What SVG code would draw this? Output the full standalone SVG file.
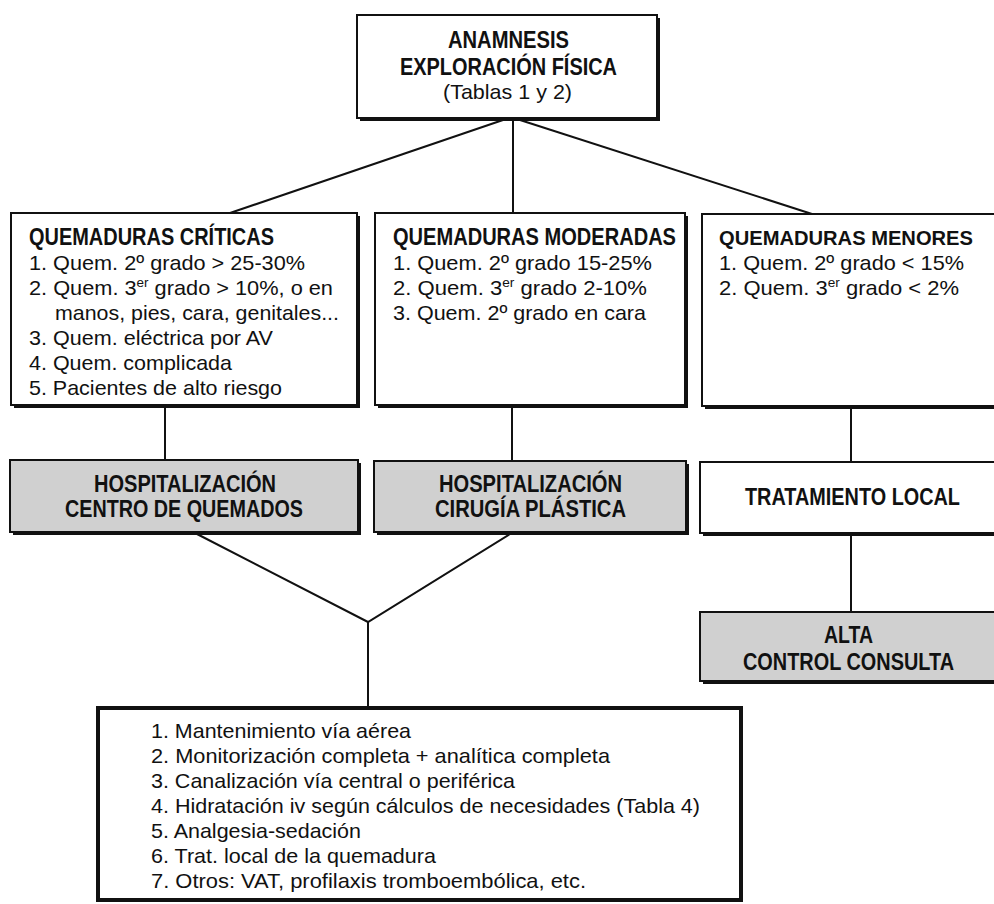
<svg xmlns="http://www.w3.org/2000/svg" width="994" height="904" viewBox="0 0 994 904">
<style>
text{font-family:"Liberation Sans",Arial,sans-serif;fill:#111}
.b{font-weight:bold;font-size:23px}
.r{font-size:21px}
.c{text-anchor:middle}
.sup{font-size:13px}
.box{fill:#fff;stroke:#111;stroke-width:2}
.gray{fill:#d0d0d0;stroke:#111;stroke-width:2}
.sh{fill:#111}
.ln{stroke:#111;stroke-width:2;fill:none}
</style>
<rect width="994" height="904" fill="#fff"/>
<g id="connectors">
<line class="ln" x1="503" y1="120" x2="230" y2="213"/>
<line class="ln" x1="513" y1="120" x2="513" y2="213"/>
<line class="ln" x1="520" y1="120" x2="812" y2="214"/>
<line class="ln" x1="165" y1="407" x2="165" y2="460"/>
<line class="ln" x1="512" y1="407" x2="512" y2="461"/>
<line class="ln" x1="851" y1="408" x2="851" y2="462"/>
<polyline class="ln" points="197,534 368,622 510,534"/>
<line class="ln" x1="368" y1="622" x2="368" y2="707"/>
<line class="ln" x1="851" y1="535" x2="851" y2="612"/>
</g>
<g id="anamnesis">
<rect class="sh" x="360" y="18" width="300" height="103"/>
<rect class="box" x="357" y="15" width="300" height="103"/>
<text class="b c" x="508.5" y="48" textLength="121" lengthAdjust="spacingAndGlyphs">ANAMNESIS</text>
<text class="b c" x="508.5" y="75" textLength="217" lengthAdjust="spacingAndGlyphs">EXPLORACIÓN FÍSICA</text>
<text class="r c" x="507.5" y="99" textLength="129" lengthAdjust="spacingAndGlyphs">(Tablas 1 y 2)</text>
</g>
<g id="criticas">
<rect class="sh" x="14" y="216" width="346" height="192"/>
<rect class="box" x="11" y="213" width="346" height="192"/>
<text class="b" x="29" y="245" textLength="245" lengthAdjust="spacingAndGlyphs">QUEMADURAS CRÍTICAS</text>
<text class="r" x="29" y="270" textLength="276" lengthAdjust="spacingAndGlyphs">1. Quem. 2º grado &gt; 25-30%</text>
<text class="r" x="29" y="295" textLength="304" lengthAdjust="spacingAndGlyphs">2. Quem. 3<tspan class="sup" dy="-8">er</tspan><tspan dy="8"> grado &gt; 10%, o en</tspan></text>
<text class="r" x="55" y="320" textLength="284" lengthAdjust="spacingAndGlyphs">manos, pies, cara, genitales...</text>
<text class="r" x="29" y="345" textLength="244" lengthAdjust="spacingAndGlyphs">3. Quem. eléctrica por AV</text>
<text class="r" x="29" y="370" textLength="203" lengthAdjust="spacingAndGlyphs">4. Quem. complicada</text>
<text class="r" x="29" y="395" textLength="253" lengthAdjust="spacingAndGlyphs">5. Pacientes de alto riesgo</text>
</g>
<g id="moderadas">
<rect class="sh" x="378" y="216" width="310" height="192"/>
<rect class="box" x="375" y="213" width="310" height="192"/>
<text class="b" x="393" y="245" textLength="283" lengthAdjust="spacingAndGlyphs">QUEMADURAS MODERADAS</text>
<text class="r" x="393" y="270" textLength="259" lengthAdjust="spacingAndGlyphs">1. Quem. 2º grado 15-25%</text>
<text class="r" x="393" y="295" textLength="254" lengthAdjust="spacingAndGlyphs">2. Quem. 3<tspan class="sup" dy="-8">er</tspan><tspan dy="8"> grado 2-10%</tspan></text>
<text class="r" x="393" y="320" textLength="253" lengthAdjust="spacingAndGlyphs">3. Quem. 2º grado en cara</text>
</g>
<g id="menores">
<rect class="sh" x="705" y="217" width="291" height="192"/>
<rect class="box" x="702" y="214" width="295" height="192"/>
<text class="b" x="719" y="245" textLength="254" lengthAdjust="spacingAndGlyphs" style="font-size:21px">QUEMADURAS MENORES</text>
<text class="r" x="719" y="270" textLength="245" lengthAdjust="spacingAndGlyphs">1. Quem. 2º grado &lt; 15%</text>
<text class="r" x="719" y="295" textLength="240" lengthAdjust="spacingAndGlyphs">2. Quem. 3<tspan class="sup" dy="-8">er</tspan><tspan dy="8"> grado &lt; 2%</tspan></text>
</g>
<g id="hosp-quemados">
<rect class="sh" x="13" y="463" width="348" height="72"/>
<rect class="gray" x="10" y="460" width="348" height="72"/>
<text class="b c" x="185" y="492" textLength="182" lengthAdjust="spacingAndGlyphs">HOSPITALIZACIÓN</text>
<text class="b c" x="184" y="517" textLength="238" lengthAdjust="spacingAndGlyphs">CENTRO DE QUEMADOS</text>
</g>
<g id="hosp-cirugia">
<rect class="sh" x="377" y="464" width="312" height="71"/>
<rect class="gray" x="374" y="461" width="312" height="71"/>
<text class="b c" x="530.5" y="492" textLength="183" lengthAdjust="spacingAndGlyphs">HOSPITALIZACIÓN</text>
<text class="b c" x="530.5" y="517" textLength="191" lengthAdjust="spacingAndGlyphs">CIRUGÍA PLÁSTICA</text>
</g>
<g id="tratamiento">
<rect class="sh" x="703" y="465" width="293" height="71"/>
<rect class="box" x="700" y="462" width="297" height="71"/>
<text class="b c" x="852.5" y="505" textLength="215" lengthAdjust="spacingAndGlyphs">TRATAMIENTO LOCAL</text>
</g>
<g id="alta">
<rect class="sh" x="703" y="615" width="293" height="69"/>
<rect class="gray" x="700" y="612" width="297" height="69"/>
<text class="b c" x="848.5" y="643" textLength="49" lengthAdjust="spacingAndGlyphs">ALTA</text>
<text class="b c" x="848.5" y="670" textLength="211" lengthAdjust="spacingAndGlyphs">CONTROL CONSULTA</text>
</g>
<g id="medidas">
<rect class="box" x="98" y="708" width="643" height="192" style="stroke-width:4"/>
<text class="r" x="151" y="738" textLength="260" lengthAdjust="spacingAndGlyphs">1. Mantenimiento vía aérea</text>
<text class="r" x="151" y="763" textLength="459" lengthAdjust="spacingAndGlyphs">2. Monitorización completa + analítica completa</text>
<text class="r" x="151" y="788" textLength="364" lengthAdjust="spacingAndGlyphs">3. Canalización vía central o periférica</text>
<text class="r" x="151" y="813" textLength="549" lengthAdjust="spacingAndGlyphs">4. Hidratación iv según cálculos de necesidades (Tabla 4)</text>
<text class="r" x="151" y="838" textLength="210" lengthAdjust="spacingAndGlyphs">5. Analgesia-sedación</text>
<text class="r" x="151" y="863" textLength="285" lengthAdjust="spacingAndGlyphs">6. Trat. local de la quemadura</text>
<text class="r" x="151" y="888" textLength="435" lengthAdjust="spacingAndGlyphs">7. Otros: VAT, profilaxis tromboembólica, etc.</text>
</g>
</svg>
